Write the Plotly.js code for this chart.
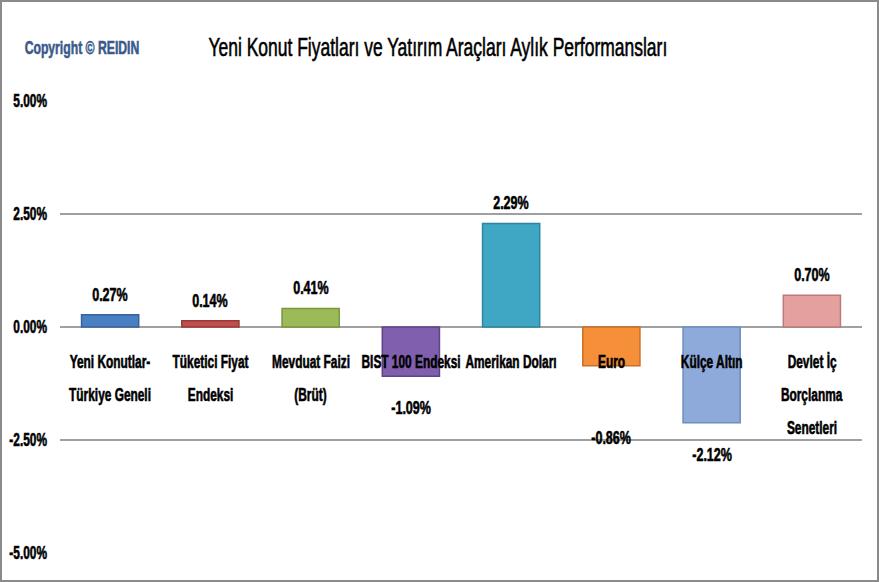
<!DOCTYPE html>
<html>
<head>
<meta charset="utf-8">
<script src="https://cdn.plot.ly/plotly-3.0.1.min.js"></script>
<style>
  body { margin: 0; background: #fff; }
  #chart { width: 879px; height: 582px; }
  /* referanstaki dar yazıyı taklit etmek için metni yatayda sıkıştır */
  #chart .annotation-text { transform-box: fill-box; transform-origin: center; transform: scaleX(0.66); }
  #frame { position: absolute; left: 0; top: 0; width: 879px; height: 582px;
           box-sizing: border-box; border: 2px solid #8a8a8a; pointer-events: none; }
</style>
</head>
<body>
<div id="chart"></div>
<div id="frame"></div>
<script>
// Veriler
const categories = ['Yeni Konutlar-Türkiye Geneli', 'Tüketici Fiyat Endeksi', 'Mevduat Faizi (Brüt)',
  'BIST 100 Endeksi', 'Amerikan Doları', 'Euro', 'Külçe Altın', 'Devlet İç Borçlanma Senetleri'];
const labelLines = [
  ['Yeni Konutlar-', 'Türkiye Geneli'],
  ['Tüketici Fiyat', 'Endeksi'],
  ['Mevduat Faizi', '(Brüt)'],
  ['BIST 100 Endeksi'],
  ['Amerikan Doları'],
  ['Euro'],
  ['Külçe Altın'],
  ['Devlet İç', 'Borçlanma', 'Senetleri']
];
const values = [0.27, 0.14, 0.41, -1.09, 2.29, -0.86, -2.12, 0.70];
const yTicks = [-5, -2.5, 0, 2.5, 5];
const yTickText = ['-5.00%', '-2.50%', '0.00%', '2.50%', '5.00%'];
const barColors = ['#4a7fc1', '#c0504d', '#9bbb59', '#7f5fae', '#3fa6c3', '#f58f3a', '#8eaadb', '#e3a09e'];
const edgeColors = ['#35649c', '#9a3a37', '#7a9640', '#5f4585', '#2d86a0', '#c96f25', '#6f8cbd', '#bb7b79'];

const fam = '"Liberation Sans", Arial, sans-serif';
const squeeze = 0.66;

const trace = {
  type: 'bar',
  x: categories,
  y: values,
  marker: { color: barColors, line: { color: edgeColors, width: 1.5 } },
  width: 0.57,
  hoverinfo: 'skip'
};

const annotations = [];
// değer etiketleri
values.forEach((v, i) => {
  let shift = v >= 0 ? 8 : -19;
  if (categories[i] === 'Euro') shift = -59;
  annotations.push({
    x: categories[i], y: v, xref: 'x', yref: 'y',
    text: v.toFixed(2) + '%', showarrow: false,
    yanchor: v >= 0 ? 'bottom' : 'top', yshift: shift,
    font: { family: fam, size: 19, color: '#000', weight: 'bold' }
  });
});
// kategori etiketleri (sıfır çizgisinin altında)
labelLines.forEach((lines, i) => {
  lines.forEach((t, j) => {
    annotations.push({
      x: categories[i], y: 0, xref: 'x', yref: 'y',
      text: t, showarrow: false, yanchor: 'middle',
      yshift: -35 - j * 33,
      font: { family: fam, size: 18, color: '#000', weight: 'bold' }
    });
  });
});
// başlık ve telif
annotations.push({
  xref: 'paper', yref: 'paper', x: 0.4707, y: 1, yshift: 54, xanchor: 'center', yanchor: 'middle',
  text: 'Yeni Konut Fiyatları ve Yatırım Araçları Aylık Performansları', showarrow: false,
  font: { family: fam, size: 26.5, color: '#000' }
});
annotations.push({
  xref: 'paper', yref: 'paper', x: 0.0274, y: 1, yshift: 54, xanchor: 'center', yanchor: 'middle',
  text: 'Copyright © REIDIN', showarrow: false,
  font: { family: fam, size: 18.5, color: '#3a5a8c', weight: 'bold' }
});

const layout = {
  width: 879, height: 582,
  margin: { l: 60, r: 17, t: 101, b: 29 },
  paper_bgcolor: '#fff', plot_bgcolor: '#fff',
  showlegend: false,
  xaxis: { range: [-0.5, 7.5], showticklabels: false, showgrid: false, zeroline: false, showline: false },
  yaxis: {
    range: [-5, 5], tickvals: yTicks, ticktext: yTickText,
    gridcolor: '#a0a0a0', gridwidth: 2, zeroline: true, zerolinecolor: '#a0a0a0', zerolinewidth: 2,
    ticks: '', ticklabelstandoff: 12,
    tickfont: { family: fam, size: 18, color: '#000', weight: 'bold' }
  },
  annotations: annotations
};

Plotly.newPlot('chart', [trace], layout, { displayModeBar: false, staticPlot: true }).then(gd => {
  // eksen etiketlerini de sağ kenarı sabit kalacak şekilde sıkıştır
  gd.querySelectorAll('.ytick text').forEach(t => {
    const x0 = parseFloat(t.getAttribute('x')) || 0;
    const tr = t.getAttribute('transform') || '';
    t.setAttribute('transform', tr + ` translate(${x0},0) scale(${squeeze},1) translate(${-x0},0)`);
  });
  // sıkıştırılan yazılar incelir; kendi renginde ince bir kontur ekle
  gd.querySelectorAll('.annotation-text, .ytick text').forEach(t => {
    t.style.stroke = t.style.fill;
    t.style.strokeWidth = '0.6px';
  });
});
</script>
</body>
</html>
